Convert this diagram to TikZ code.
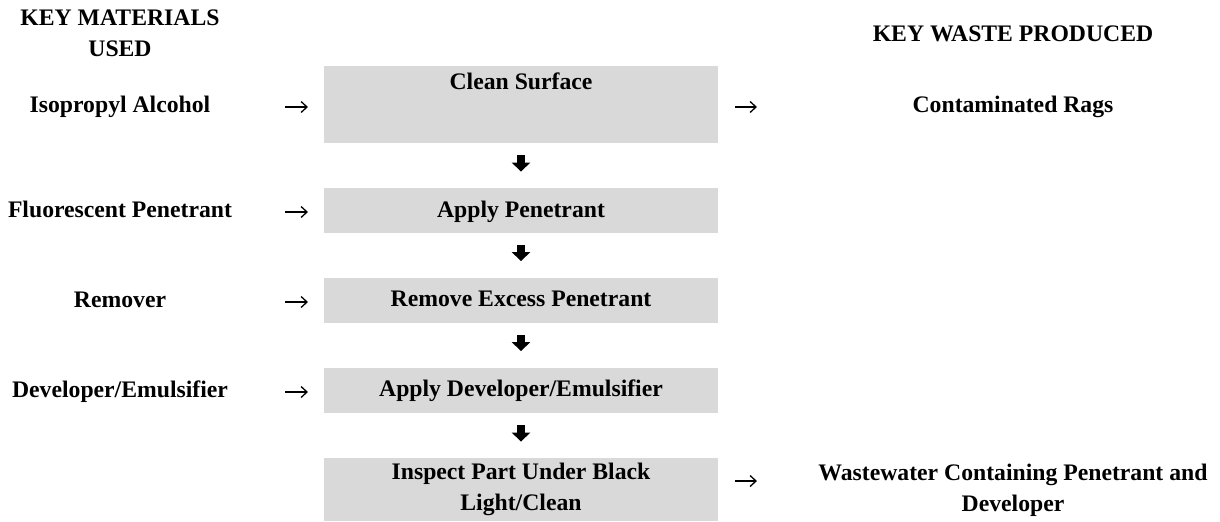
\documentclass[tikz,border=0pt]{standalone}
\usepackage{fontspec}
\setmainfont{Liberation Serif}
\usetikzlibrary{arrows.meta}
\definecolor{stepgray}{RGB}{217,217,217}
\tikzset{
  txt/.style={font=\fontsize{11.85pt}{15.5pt}\selectfont\bfseries, inner sep=0pt, align=center},
  stepbox/.style={txt, fill=stepgray, minimum width=197pt},
  onerow/.style={text height=14.5pt, text depth=8pt},
  feed/.style={line width=0.65pt, -{Straight Barb[length=3pt,width=5.5pt]}},
  flow/.style={line width=4pt, -{Triangle[length=4.5pt,width=9pt]}, shorten <=6pt, shorten >=8pt},
}
\begin{document}
\begin{tikzpicture}[x=0.5pt, y=-0.5pt]
\useasboundingbox (0,0) rectangle (1220,521);

% column headings
\node[txt] (hmat) at (120,33.5) {KEY MATERIALS\\USED};
\node[txt, anchor=base] (hwaste) at (1013,41) {KEY WASTE PRODUCED};

% process steps
\node[stepbox, text height=11.5pt, text depth=27pt] (s1) at (521,104.5) {Clean Surface};
\node[stepbox, onerow] (s2) at (521,210.5) {Apply Penetrant};
\node[stepbox, onerow] (s3) at (521,300) {Remove Excess Penetrant};
\node[stepbox, onerow] (s4) at (521,390) {Apply Developer/Emulsifier};
\node[stepbox, minimum height=31.5pt] (s5) at (521,489.5) {Inspect Part Under Black\\Light/Clean};

% materials
\node[txt, anchor=base] (m1) at (120,112) {Isopropyl Alcohol};
\node[txt, anchor=base] (m2) at (120,217) {Fluorescent Penetrant};
\node[txt, anchor=base] (m3) at (120,307) {Remover};
\node[txt, anchor=base] (m4) at (120,397) {Developer/Emulsifier};

% wastes
\node[txt, anchor=base] (w1) at (1013,112) {Contaminated Rags};
\node[txt] (w5) at (1013,490) {Wastewater Containing Penetrant and\\Developer};

% arrow end points
\coordinate (fa1) at (285,107); \coordinate (fb1) at (308,107);
\coordinate (fa2) at (285,212); \coordinate (fb2) at (308,212);
\coordinate (fa3) at (285,302); \coordinate (fb3) at (308,302);
\coordinate (fa4) at (285,392); \coordinate (fb4) at (308,392);
\coordinate (oa1) at (735,107); \coordinate (ob1) at (757,107);
\coordinate (oa5) at (735,481); \coordinate (ob5) at (757,481);

% inputs and outputs
\draw[feed] (fa1) -- (fb1);
\draw[feed] (fa2) -- (fb2);
\draw[feed] (fa3) -- (fb3);
\draw[feed] (fa4) -- (fb4);
\draw[feed] (oa1) -- (ob1);
\draw[feed] (oa5) -- (ob5);

% process flow
\draw[flow] (s1.south) -- (s2.north);
\draw[flow] (s2.south) -- (s3.north);
\draw[flow] (s3.south) -- (s4.north);
\draw[flow] (s4.south) -- (s5.north);
\end{tikzpicture}
\end{document}
